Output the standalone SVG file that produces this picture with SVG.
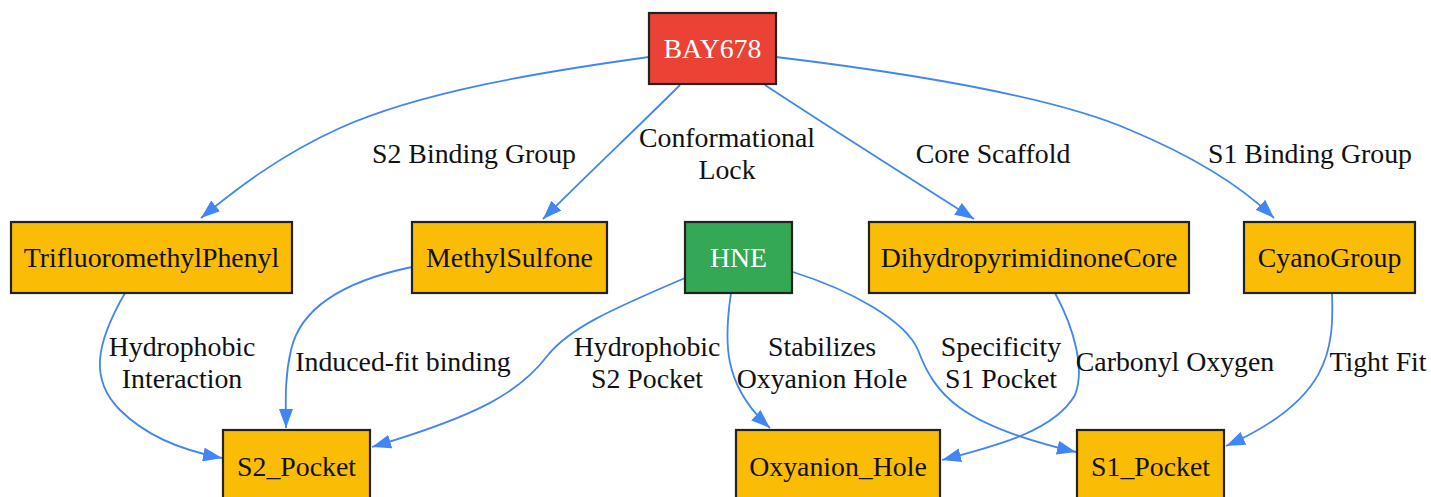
<svg xmlns="http://www.w3.org/2000/svg" width="1431" height="497" viewBox="0 0 1431 497">
<style>
text{font-family:"Liberation Serif","Times New Roman",serif;font-size:27.8px;text-anchor:middle;fill:#111}
.n rect{stroke:#222;stroke-width:2.2}
.y rect{fill:#FBBC05}
.w text{fill:#fff}
.e path{fill:none;stroke:#4285F4;stroke-width:1.8;marker-end:url(#a)}
</style>
<defs>
<marker id="a" markerUnits="userSpaceOnUse" viewBox="0 0 19 14" markerWidth="19" markerHeight="14" refX="19" refY="7" orient="auto">
<path d="M0,0 L19,7 L0,14 z" fill="#4285F4"/>
</marker>
</defs>
<rect width="1431" height="497" fill="#fff"/>
<g id="edges" class="e">
<path d="M649,57 C540,72 420,92 340,128 C280,155 235,190 201,218"/>
<path d="M680,85 C640,125 590,172 543,219"/>
<path d="M765,85 C830,128 905,175 974,219"/>
<path d="M776,57 C900,72 1050,95 1130,130 C1190,155 1240,185 1274,218"/>
<path d="M125,293 C95,345 90,380 120,410 C150,440 190,452 222,458"/>
<path d="M412,267 C340,282 300,310 291,350 C284,380 286,405 286,428"/>
<path d="M685,278 C610,310 570,328 548,355 C520,392 480,415 372,447"/>
<path d="M731,293 C724,340 722,385 770,428"/>
<path d="M793,272 C850,290 905,320 918,350 C935,395 960,425 1076,452"/>
<path d="M1055,293 C1075,330 1085,370 1075,395 C1055,430 1000,445 942,460"/>
<path d="M1332,293 C1334,350 1330,400 1226,446"/>
</g>
<g id="edge-labels">
<text x="474" y="163">S2 Binding Group</text>
<text x="727" y="147">Conformational</text>
<text x="727" y="179">Lock</text>
<text x="993" y="163">Core Scaffold</text>
<text x="1310" y="163">S1 Binding Group</text>
<text x="182" y="356">Hydrophobic</text>
<text x="182" y="388">Interaction</text>
<text x="403" y="371">Induced-fit binding</text>
<text x="647" y="356">Hydrophobic</text>
<text x="647" y="388">S2 Pocket</text>
<text x="822" y="356">Stabilizes</text>
<text x="822" y="388">Oxyanion Hole</text>
<text x="1001" y="356">Specificity</text>
<text x="1001" y="388">S1 Pocket</text>
<text x="1175" y="371">Carbonyl Oxygen</text>
<text x="1378" y="371">Tight Fit</text>
</g>
<g id="BAY678" class="n w"><rect x="649" y="13" width="127" height="71" fill="#EA4335"/><text x="712.5" y="58">BAY678</text></g>
<g id="TrifluoromethylPhenyl" class="n y"><rect x="11" y="222" width="281" height="71"/><text x="151.5" y="267">TrifluoromethylPhenyl</text></g>
<g id="MethylSulfone" class="n y"><rect x="412" y="222" width="195" height="71"/><text x="509.5" y="267">MethylSulfone</text></g>
<g id="HNE" class="n w"><rect x="685" y="222" width="107" height="71" fill="#34A853"/><text x="738.5" y="267">HNE</text></g>
<g id="DihydropyrimidinoneCore" class="n y"><rect x="869" y="222" width="320" height="71"/><text x="1029" y="267">DihydropyrimidinoneCore</text></g>
<g id="CyanoGroup" class="n y"><rect x="1244" y="222" width="171" height="71"/><text x="1329.5" y="267">CyanoGroup</text></g>
<g id="S2_Pocket" class="n y"><rect x="223" y="430" width="147" height="72"/><text x="296.5" y="476">S2_Pocket</text></g>
<g id="Oxyanion_Hole" class="n y"><rect x="736" y="430" width="204" height="72"/><text x="838" y="476">Oxyanion_Hole</text></g>
<g id="S1_Pocket" class="n y"><rect x="1077" y="430" width="147" height="72"/><text x="1150.5" y="476">S1_Pocket</text></g>
</svg>
